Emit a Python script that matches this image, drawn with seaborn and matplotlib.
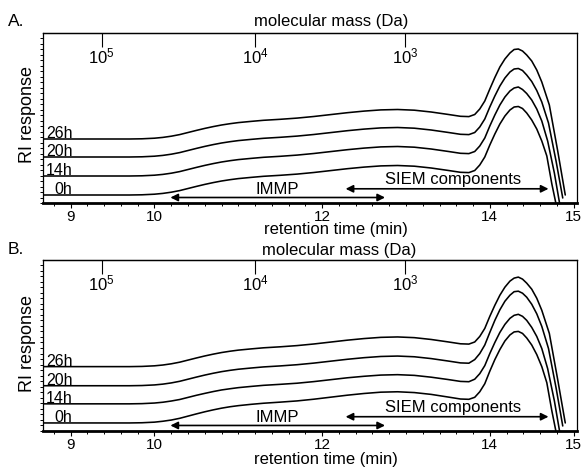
import matplotlib
matplotlib.use("Agg")
import matplotlib.pyplot as plt
from matplotlib.ticker import MultipleLocator, NullFormatter
import pandas as pd
import seaborn as sns

# ---------------- data ----------------
series_names = ["0h", "14h", "20h", "26h"]

# retention time (min) shared by all traces up to the falling edge of the peak
x_common = [8.68, 9.70, 9.85, 10.00, 10.10, 10.20, 10.30, 10.40, 10.50, 10.60,
            10.70, 10.80, 10.90, 11.00, 11.15, 11.30, 11.50, 11.70, 11.90, 12.10,
            12.30, 12.50, 12.70, 12.90, 13.10, 13.30, 13.50, 13.65, 13.75,
            13.82, 13.88, 13.94, 14.00, 14.06, 14.12, 14.18, 14.24, 14.29, 14.34, 14.39,
            14.44, 14.50, 14.56, 14.62]
# last points of each trace (they leave the plot at slightly different times)
tail_x_0h = [14.68, 14.74, 14.80]
tail_x_14h = [14.69, 14.77, 14.84]
tail_x_20h = [14.70, 14.79, 14.87]
tail_x_26h = [14.71, 14.81, 14.90]

# panel A: RI response (arbitrary units, stacked traces)
a_0h = [8, 8, 8.2, 8.8, 9.6, 10.8, 12.4, 14.5, 16.6, 18.6, 20.4, 22, 23.3, 24.4, 25.6, 26.7,
        27.7, 28.9, 30.5, 32.4, 34.3, 35.9, 37.1, 37.5, 36.8, 35, 32.6, 30.7, 30.4,
        32.5, 38, 46, 58, 69, 79, 87, 93, 96, 96.5, 94.5,
        90, 83, 74, 62,
        47, 19, -5]
a_14h = [27, 27, 27.2, 27.8, 28.6, 29.8, 31.4, 33.5, 35.6, 37.6, 39.4, 41, 42.3, 43.4, 44.6, 45.7,
         46.7, 47.9, 49.5, 51.4, 53.3, 54.9, 56.1, 56.5, 55.8, 54, 51.6, 49.7, 49.4,
         51.5, 57, 65, 77, 88, 98, 106, 112, 115, 116, 113.5,
         109.5, 103, 94, 82,
         62, 30, -4]
a_20h = [46, 46, 46.2, 46.8, 47.6, 48.8, 50.4, 52.5, 54.6, 56.6, 58.4, 60, 61.3, 62.4, 63.6, 64.7,
         65.7, 66.9, 68.5, 70.4, 72.3, 73.9, 75.1, 75.5, 74.8, 73, 70.6, 68.7, 68.4,
         70.5, 76, 84, 96, 107, 117, 125, 131, 134, 134.5, 132.5,
         128, 121.5, 112.5, 101,
         80, 42, 5]
a_26h = [64, 64, 64.2, 64.8, 65.6, 66.8, 68.4, 70.5, 72.6, 74.6, 76.4, 78, 79.3, 80.4, 81.6, 82.7,
         83.7, 84.9, 86.5, 88.4, 90.3, 91.9, 93.1, 93.5, 92.8, 91, 88.6, 86.7, 86.4,
         88.5, 94, 102, 114, 125.5, 136, 144, 150, 153.5, 154, 152,
         148, 142, 133, 121,
         98, 52, 8]

# panel B
b_0h = [8, 8, 8.2, 8.8, 9.7, 10.9, 12.6, 14.8, 17, 19.1, 21, 22.7, 24.1, 25.2, 26.5, 27.6,
        28.7, 29.9, 31.6, 33.6, 35.6, 37.3, 38.6, 39, 38.2, 36.4, 33.8, 31.8, 31.5,
        33.5, 39, 47, 59.5, 71, 81, 89.5, 95.5, 98.5, 99, 97,
        92.5, 85.5, 76, 64,
        48, 20, -5]
b_14h = [27, 27, 27.2, 27.8, 28.6, 29.8, 31.3, 33.4, 35.5, 37.4, 39.2, 40.8, 42, 43.1, 44.3, 45.4,
         46.4, 47.5, 49.1, 51, 52.9, 54.4, 55.6, 56, 55.3, 53.5, 51.2, 49.3, 49,
         51.5, 57, 65, 77, 88, 98, 106, 112, 115, 116, 114,
         110, 103, 94, 82,
         62, 30, -4]
b_20h = [45, 45, 45.2, 45.8, 46.6, 47.8, 49.4, 51.5, 53.6, 55.6, 57.4, 59, 60.3, 61.4, 62.6, 63.7,
         64.7, 65.9, 67.5, 69.4, 71.3, 72.9, 74.1, 74.5, 73.8, 72, 69.6, 67.7, 67.4,
         71, 77, 85.5, 98, 110, 120.5, 129, 135, 138.5, 139, 137,
         133, 126, 116.5, 104,
         82, 43, 5]
b_26h = [64, 64, 64.2, 64.8, 65.6, 66.8, 68.4, 70.5, 72.6, 74.6, 76.4, 78, 79.3, 80.4, 81.6, 82.7,
         83.7, 84.9, 86.5, 88.4, 90.3, 91.9, 93.1, 93.5, 92.8, 91, 88.6, 86.7, 86.4,
         88.5, 94, 102, 114, 125, 135, 143, 149, 152, 153, 151,
         147, 141, 132, 120,
         97, 51, 8]

rt_ticks = [9, 10, 12, 14, 15]
rt_tick_labels = ["9", "10", "12", "14", "15"]
mass_tick_rt = [9.37, 11.20, 12.99]
mass_tick_labels = [r"$\mathregular{10^5}$", r"$\mathregular{10^4}$", r"$\mathregular{10^3}$"]

immp_span = [10.19, 12.75]
siem_span = [12.28, 14.70]

# ---------------- style ----------------
sns.set_theme(style="ticks")
plt.rcParams["font.family"] = ["Liberation Sans", "DejaVu Sans"]
plt.rcParams["mathtext.fontset"] = "custom"
plt.rcParams["mathtext.rm"] = "Liberation Sans"
plt.rcParams["mathtext.it"] = "Liberation Sans:italic"
plt.rcParams["text.color"] = "black"
plt.rcParams["axes.edgecolor"] = "black"
plt.rcParams["xtick.color"] = "black"
plt.rcParams["ytick.color"] = "black"
plt.rcParams["axes.labelcolor"] = "black"

W, H = 584, 471
fig = plt.figure(figsize=(W / 100, H / 100), dpi=100)
fig.patch.set_facecolor("white")

tails = [tail_x_0h, tail_x_14h, tail_x_20h, tail_x_26h]


def panel(ax, ys, letter, letter_y, title_xy, xlabel_xy, ylabel_y):
    rows = []
    for name, tx, y in zip(series_names, tails, ys):
        xs = x_common + tx
        assert len(xs) == len(y), (name, len(xs), len(y))
        for xv, yv in zip(xs, y):
            rows.append((name, xv, yv))
    df = pd.DataFrame(rows, columns=["series", "rt", "ri"])
    sns.lineplot(data=df, x="rt", y="ri", hue="series", hue_order=series_names,
                 palette=["black"] * 4, estimator=None, sort=False, legend=False,
                 linewidth=1.15, ax=ax)
    ax.set_xlim(8.67, 15.04)
    ax.set_ylim(0, 170)

    # curve labels
    for name, y in zip(series_names, ys):
        ax.text(9.02, y[0] + 0.8, name, ha="right", va="baseline", fontsize=11.5)

    # arrows
    ax.annotate("", xy=(immp_span[0], 5.5), xytext=(immp_span[1], 5.5),
                arrowprops=dict(arrowstyle="<|-|>", color="black", lw=1.2,
                                mutation_scale=11, shrinkA=0, shrinkB=0))
    ax.annotate("", xy=(siem_span[0], 14.2), xytext=(siem_span[1], 14.2),
                arrowprops=dict(arrowstyle="<|-|>", color="black", lw=1.2,
                                mutation_scale=11, shrinkA=0, shrinkB=0))
    ax.text(11.46, 9.2, "IMMP", ha="center", va="baseline", fontsize=12)
    ax.text(13.56, 19.0, "SIEM components", ha="center", va="baseline", fontsize=12)

    # bottom axis
    ax.set_xticks(rt_ticks, labels=rt_tick_labels)
    ax.xaxis.set_minor_locator(MultipleLocator(0.2))
    ax.tick_params(axis="x", which="major", direction="out", length=3.5, width=0.8,
                   pad=1.5, labelsize=11)
    ax.tick_params(axis="x", which="minor", direction="out", length=2.2, width=0.7)
    ax.set_xlabel("retention time (min)", fontsize=12)
    ax.xaxis.set_label_coords(*xlabel_xy)
    ax.xaxis.label.set_va("center")

    # left axis: unlabeled fine ticks
    ax.yaxis.set_major_locator(MultipleLocator(5.5))
    ax.yaxis.set_major_formatter(NullFormatter())
    ax.tick_params(axis="y", which="major", direction="out", length=2, width=0.7)
    ax.set_ylabel("RI response", fontsize=13)
    ax.yaxis.set_label_coords(-15 / 534, ylabel_y)
    ax.yaxis.label.set_va("center")

    for s in ["top", "right", "left"]:
        ax.spines[s].set_visible(True)
        ax.spines[s].set_linewidth(0.9)
    ax.spines["bottom"].set_linewidth(2.0)

    # top molecular-mass axis
    sec = ax.secondary_xaxis("top")
    sec.set_xticks(mass_tick_rt, labels=mass_tick_labels)
    sec.tick_params(direction="in", length=10, width=0.8, pad=-24, labelsize=12)
    sec.spines["top"].set_linewidth(0.9)
    sec.set_xlabel("molecular mass (Da)", fontsize=12)
    sec.xaxis.set_label_coords(title_xy[0], title_xy[1], transform=ax.transAxes)
    sec.xaxis.label.set_va("center")

    fig.text(8 / W, 1 - letter_y / H, letter, ha="left", va="center", fontsize=12.5)


axA = fig.add_axes([43 / W, (H - 203) / H, 534 / W, 170 / H])
axB = fig.add_axes([43 / W, (H - 431) / H, 534 / W, 171 / H])

panel(axA, [a_0h, a_14h, a_20h, a_26h], "A.", 22,
      (0.539, 1.07), (0.549, -0.158), 0.52)
panel(axB, [b_0h, b_14h, b_20h, b_26h], "B.", 250,
      (0.554, 1.058), (0.530, -0.165), 0.51)

fig.savefig("out.png", dpi=100, facecolor="white")
